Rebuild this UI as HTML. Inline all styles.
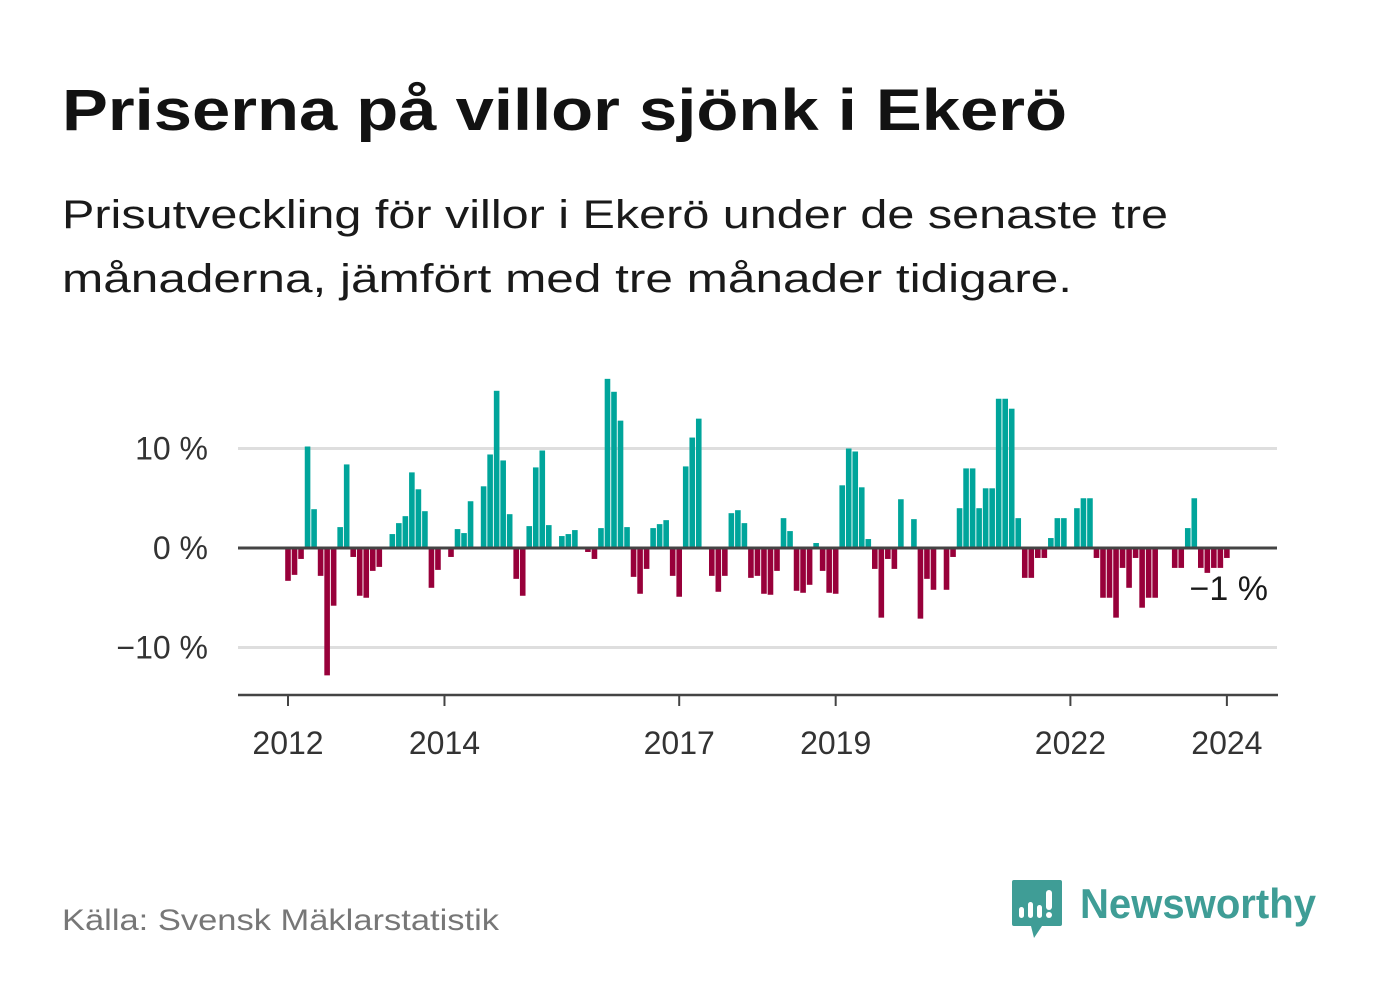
<!DOCTYPE html>
<html><head><meta charset="utf-8"><style>
html,body{margin:0;padding:0;background:#fff;}
svg{display:block;font-family:"Liberation Sans","DejaVu Sans",sans-serif;}
</style></head><body>
<svg id="chart" width="1382" height="999" viewBox="0 0 1382 999" xmlns="http://www.w3.org/2000/svg">
<text x="62" y="130" font-size="58" font-weight="bold" fill="#121212" textLength="1005" lengthAdjust="spacingAndGlyphs">Priserna på villor sjönk i Ekerö</text>
<text x="62" y="228" font-size="40" fill="#1a1a1a" textLength="1106" lengthAdjust="spacingAndGlyphs">Prisutveckling för villor i Ekerö under de senaste tre</text>
<text x="62" y="292" font-size="40" fill="#1a1a1a" textLength="1010" lengthAdjust="spacingAndGlyphs">månaderna, jämfört med tre månader tidigare.</text>
<g id="grid"></g>
<g id="bars"></g>
<g id="axes"></g>
<text x="1268" y="600" font-size="34" fill="#1a1a1a" text-anchor="end" stroke="#fff" stroke-width="6" paint-order="stroke">−1 %</text>
<text x="62" y="930" font-size="30" fill="#777" textLength="437" lengthAdjust="spacingAndGlyphs">Källa: Svensk Mäklarstatistik</text>
<g>
<path d="M1014 880 h46 a2 2 0 0 1 2 2 v42 a2 2 0 0 1 -2 2 h-18 l-8 12 l-3 -12 h-17 a2 2 0 0 1 -2 -2 v-42 a2 2 0 0 1 2 -2z" fill="#3f9d96"/>
<rect x="1019" y="907" width="5" height="11" rx="2.5" fill="#fff"/>
<rect x="1028" y="902" width="5" height="16" rx="2.5" fill="#fff"/>
<rect x="1037" y="905" width="5" height="13" rx="2.5" fill="#fff"/>
<rect x="1046" y="890" width="6" height="20" rx="3" fill="#fff"/>
<circle cx="1049" cy="915" r="3" fill="#fff"/>
<text x="1080" y="918" font-size="42" font-weight="bold" fill="#3f9d96" textLength="236" lengthAdjust="spacingAndGlyphs">Newsworthy</text>
</g>
</svg>
<script>
const startYear = 2012;
const values = [
-3.3,-2.7,-1.1,10.2,3.9,-2.8,-12.8,-5.8,2.1,8.4,-0.9,-4.8,
-5.0,-2.3,-1.9,0,1.4,2.5,3.2,7.6,5.9,3.7,-4.0,-2.2,
0,-0.9,1.9,1.5,4.7,0,6.2,9.4,15.8,8.8,3.4,-3.1,
-4.8,2.2,8.1,9.8,2.3,0,1.2,1.4,1.8,0.1,-0.4,-1.1,
2.0,17.0,15.7,12.8,2.1,-2.9,-4.6,-2.1,2.0,2.4,2.8,-2.8,
-4.9,8.2,11.1,13.0,0,-2.8,-4.4,-2.8,3.5,3.8,2.5,-3.0,
-2.8,-4.6,-4.7,-2.3,3.0,1.7,-4.3,-4.5,-3.7,0.5,-2.3,-4.5,
-4.6,6.3,10.0,9.7,6.1,0.9,-2.1,-7.0,-1.1,-2.1,4.9,0,
2.9,-7.1,-3.1,-4.2,0,-4.2,-0.9,4.0,8.0,8.0,4.0,6.0,
6.0,15.0,15.0,14.0,3.0,-3.0,-3.0,-1.0,-1.0,1.0,3.0,3.0,
0,4.0,5.0,5.0,-1.0,-5.0,-5.0,-7.0,-2.0,-4.0,-1.0,-6.0,
-5.0,-5.0,0,0,-2.0,-2.0,2.0,5.0,-2.0,-2.5,-2.0,-2.0,
-1.0];
const yTicks = [10, 0, -10];
const yTickLabels = ["10 %", "0 %", "−10 %"];
const xTicks = [2012, 2014, 2017, 2019, 2022, 2024];

const NS = "http://www.w3.org/2000/svg";
function y(v){ return 548 - v * 9.95; }
function x(i){ return 288 + i * 6.52; }
function xYear(yr){ return x((yr - startYear) * 12); }
function mk(tag, attrs, parent){
  const el = document.createElementNS(NS, tag);
  for (const k in attrs) el.setAttribute(k, attrs[k]);
  parent.appendChild(el);
  return el;
}
const grid = document.getElementById("grid");
const bars = document.getElementById("bars");
const axes = document.getElementById("axes");
yTicks.forEach((t, i) => {
  if (t !== 0) {
    const l = mk("line", {x1:238, x2:1277, y1:y(t), y2:y(t), stroke:"#dedede", "stroke-width":3}, grid);
    
    
  }
  const tx = mk("text", {x:208, y:y(t)+11, "font-size":32, fill:"#333", "text-anchor":"end"}, grid);
  
  
  tx.textContent = yTickLabels[i];
});
values.forEach((v, i) => {
  if (v === 0) return;
  const top = Math.min(y(v), y(0));
  const h = Math.abs(y(v) - y(0));
  const r = mk("rect", {x:x(i)-2.8, y:top, width:5.6, height:h, fill: v > 0 ? "#00a59b" : "#98003a"}, bars);
  
  
});
const zl = mk("line", {x1:238, x2:1277, y1:y(0), y2:y(0), stroke:"#444", "stroke-width":3}, axes);


const xl = mk("line", {x1:238, x2:1278, y1:695, y2:695, stroke:"#444", "stroke-width":2.5}, axes);


xTicks.forEach(yr => {
  const t = mk("line", {x1:xYear(yr), x2:xYear(yr), y1:695, y2:706, stroke:"#444", "stroke-width":2}, axes);
  
  
  const tx = mk("text", {x:xYear(yr), y:754, "font-size":32, fill:"#333", "text-anchor":"middle"}, axes);
  
  
  tx.textContent = yr;
});
</script>
</body></html>
